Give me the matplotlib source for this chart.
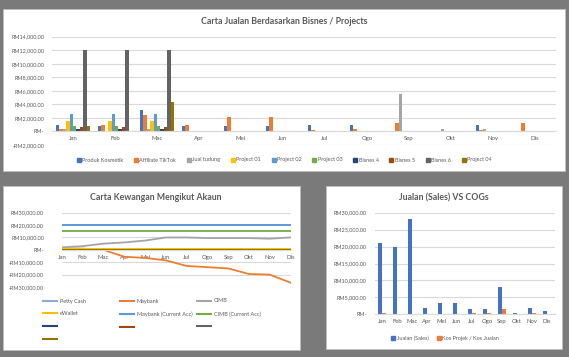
"""Recreate the sales dashboard (three Excel-style charts on a grey sheet)."""

import matplotlib

matplotlib.use("Agg")
import matplotlib.pyplot as plt  # noqa: E402
import numpy as np  # noqa: E402
from matplotlib.lines import Line2D  # noqa: E402
from matplotlib.patches import Rectangle  # noqa: E402
from matplotlib.ticker import FuncFormatter  # noqa: E402

W, H = 569, 357
FONT = ["Lato", "DejaVu Sans"]
TEXT = "#595959"
GRID = "#d9d9d9"

MONTHS = ["Jan", "Feb", "Mac", "Apr", "Mei", "Jun", "Jul", "Ogo", "Sep", "Okt", "Nov", "Dis"]

# --- chart 1: sales by business / project
BISNES = [
    "Produk Kosmetik", "Affiliate TikTok", "Jual tudung", "Project 01", "Project 02",
    "Project 03", "Bisnes 4", "Bisnes 5", "Bisnes 6", "Project 04",
]
BISNES_COLORS = [
    "#4472c4", "#ed7d31", "#a5a5a5", "#ffc000", "#5b9bd5",
    "#70ad47", "#264478", "#9e480e", "#636363", "#997300",
]
produk_kosmetik = [1000, 800, 3200, 800, 800, 800, 1000, 1000, 0, 0, 1000, 0]
affiliate_tiktok = [300, 1000, 2400, 1000, 2100, 2100, 150, 300, 1200, 0, 250, 1200]
jual_tudung = [400, 0, 400, 0, 0, 0, 0, 0, 5500, 400, 400, 0]
project_01 = [1500, 1500, 1500, 0, 0, 0, 0, 0, 0, 0, 0, 0]
project_02 = [2600, 2600, 2600, 0, 0, 0, 0, 0, 0, 0, 0, 0]
project_03 = [800, 800, 800, 0, 0, 0, 0, 0, 0, 0, 0, 0]
bisnes_4 = [400, 400, 400, 0, 0, 0, 0, 0, 0, 0, 0, 0]
bisnes_5 = [700, 700, 700, 0, 0, 0, 0, 0, 0, 0, 0, 0]
bisnes_6 = [12000, 12000, 12000, 0, 0, 0, 0, 0, 0, 0, 0, 0]
project_04 = [800, 0, 4300, 0, 0, 0, 0, 0, 0, 0, 0, 0]
BISNES_VALUES = [
    produk_kosmetik, affiliate_tiktok, jual_tudung, project_01, project_02,
    project_03, bisnes_4, bisnes_5, bisnes_6, project_04,
]

# --- chart 2: balance per account
AKAUN = [
    "Petty Cash", "Maybank", "CIMB", "eWallet", "Maybank (Current Acc)",
    "CIMB (Current Acc)", "", "", "", "",
]
AKAUN_COLORS = [
    "#8faadc", "#ed7d31", "#a5a5a5", "#ffc000", "#5b9bd5",
    "#70ad47", "#264478", "#9e480e", "#636363", "#997300",
]
petty_cash = [20000] * 12
maybank = [1000, 1000, 0, -5600, -6500, -8500, -13000, -14000, -15000, -19500, -20000, -26500]
cimb = [2000, 3000, 5000, 6000, 7500, 10000, 10000, 9500, 9500, 9500, 9000, 10000]
ewallet = [1000] * 12
maybank_current = [20000] * 12
cimb_current = [15000] * 12
blank_1 = [0] * 12
blank_2 = [0] * 12
blank_3 = [0] * 12
blank_4 = [0] * 12
AKAUN_VALUES = [
    petty_cash, maybank, cimb, ewallet, maybank_current,
    cimb_current, blank_1, blank_2, blank_3, blank_4,
]

# --- chart 3: sales vs cost of goods
SALES_LABELS = ["Jualan (Sales)", "Kos Projek / Kos Jualan"]
SALES_COLORS = ["#4472c4", "#ed7d31"]
jualan = [21000, 20000, 28000, 2000, 3300, 3300, 1600, 1600, 8100, 500, 2000, 1000]
kos = [500, 0, 0, 0, 0, 0, 500, 500, 1500, 0, 500, 0]

plt.rcParams["font.family"] = FONT


def rm(value, _pos=None):
    if value == 0:
        return "RM-"
    sign = "-" if value < 0 else ""
    return f"{sign}RM{abs(value):,.2f}"


def px_rect(x0, y0, x1, y1):
    return [x0 / W, 1 - y1 / H, (x1 - x0) / W, (y1 - y0) / H]


def panel(fig, x0, y0, x1, y1):
    l, b, w, h = px_rect(x0, y0, x1, y1)
    fig.add_artist(Rectangle((l, b), w, h, transform=fig.transFigure,
                             facecolor="white", edgecolor="#bfbfbf", lw=0.6, zorder=-5))


def style_axes(ax, ypad):
    ax.set_facecolor("none")
    for side in ("top", "right", "left"):
        ax.spines[side].set_visible(False)
    ax.spines["bottom"].set_color(GRID)
    ax.spines["bottom"].set_linewidth(0.8)
    ax.grid(axis="y", color=GRID, lw=0.8)
    ax.set_axisbelow(True)
    ax.yaxis.set_major_formatter(FuncFormatter(rm))
    ax.tick_params(axis="y", length=0, pad=ypad, labelsize=4, colors=TEXT)
    ax.tick_params(axis="x", length=0, pad=3.5, labelsize=4.3, colors=TEXT)


fig = plt.figure(figsize=(W / 100, H / 100), dpi=100)
fig.patch.set_facecolor("#7a7a7a")

panel(fig, 3, 9, 565, 171)
panel(fig, 3, 186, 300, 350)
panel(fig, 326, 186, 562, 349)

x = np.arange(len(MONTHS))

# chart 1
ax1 = fig.add_axes(px_rect(52, 36.7, 556, 145))
bw = 1 / (len(BISNES) + 2.19)
for i, (vals, col) in enumerate(zip(BISNES_VALUES, BISNES_COLORS)):
    ax1.bar(x + (i - 4.5) * bw, vals, bw, color=col, label=BISNES[i])
ax1.set_xlim(-0.5, 11.5)
ax1.set_ylim(-2000, 14000)
ax1.set_yticks(np.arange(-2000, 14001, 2000))
ax1.set_xticks(x, MONTHS)
style_axes(ax1, 5.5)
ax1.spines["bottom"].set_position(("data", 0))
fig.text(284 / W, 1 - 22 / H, "Carta Jualan Berdasarkan Bisnes / Projects",
         ha="center", va="center", fontsize=6.3, fontweight="bold", color=TEXT)
handles = [Line2D([], [], ls="none", marker="s", ms=2.6, color=c) for c in BISNES_COLORS]
fig.legend(handles, BISNES, loc="center", bbox_to_anchor=(284 / W, 1 - 160 / H),
           ncol=10, frameon=False, fontsize=4, labelcolor=TEXT, handlelength=0.8,
           handletextpad=0.2, columnspacing=1.9)

# chart 2
ax2 = fig.add_axes(px_rect(62, 212.7, 290.5, 287))
for vals, col, name in zip(AKAUN_VALUES, AKAUN_COLORS, AKAUN):
    lw = 2.2 if name == "eWallet" else 1.3
    ax2.plot(x, vals, color=col, lw=lw)
ax2.set_xlim(0, 11)
ax2.set_ylim(-30000, 30000)
ax2.set_yticks(np.arange(-30000, 30001, 10000))
ax2.set_xticks(x, MONTHS)
style_axes(ax2, 13)
ax2.spines["bottom"].set_position(("data", 0))
fig.text(156 / W, 1 - 197 / H, "Carta Kewangan Mengikut Akaun",
         ha="center", va="center", fontsize=6.3, fontweight="bold", color=TEXT)
# excel lays the legend out in equal columns, one legend per column here
for col_idx, col_x in enumerate([43, 120, 197]):
    idx = list(range(col_idx, len(AKAUN), 3))
    hs = [Line2D([], [], color=AKAUN_COLORS[k], lw=1.5) for k in idx]
    fig.legend(hs, [AKAUN[k] for k in idx], loc="upper left",
               bbox_to_anchor=(col_x / W, 1 - 298.5 / H), frameon=False, fontsize=4,
               labelcolor=TEXT, handlelength=2.6, handletextpad=0.4,
               borderpad=0, borderaxespad=0, labelspacing=1.4)

# chart 3
ax3 = fig.add_axes(px_rect(374.5, 212.7, 554.5, 314.3))
bw3 = 1 / (2 + 2.19)
ax3.bar(x - bw3 / 2, jualan, bw3, color=SALES_COLORS[0])
ax3.bar(x + bw3 / 2, kos, bw3, color=SALES_COLORS[1])
ax3.set_xlim(-0.5, 11.5)
ax3.set_ylim(0, 30000)
ax3.set_yticks(np.arange(0, 30001, 5000))
ax3.set_xticks(x, MONTHS)
style_axes(ax3, 5.5)
fig.text(444 / W, 1 - 198 / H, "Jualan (Sales) VS COGs",
         ha="center", va="center", fontsize=6.3, fontweight="bold", color=TEXT)
handles3 = [Line2D([], [], ls="none", marker="s", ms=2.6, color=c) for c in SALES_COLORS]
fig.legend(handles3, SALES_LABELS, loc="center", bbox_to_anchor=(445 / W, 1 - 338 / H),
           ncol=2, frameon=False, fontsize=4, labelcolor=TEXT, handlelength=0.8,
           handletextpad=0.2, columnspacing=1.5)

fig.savefig("out.png", dpi=100, facecolor=fig.get_facecolor())
